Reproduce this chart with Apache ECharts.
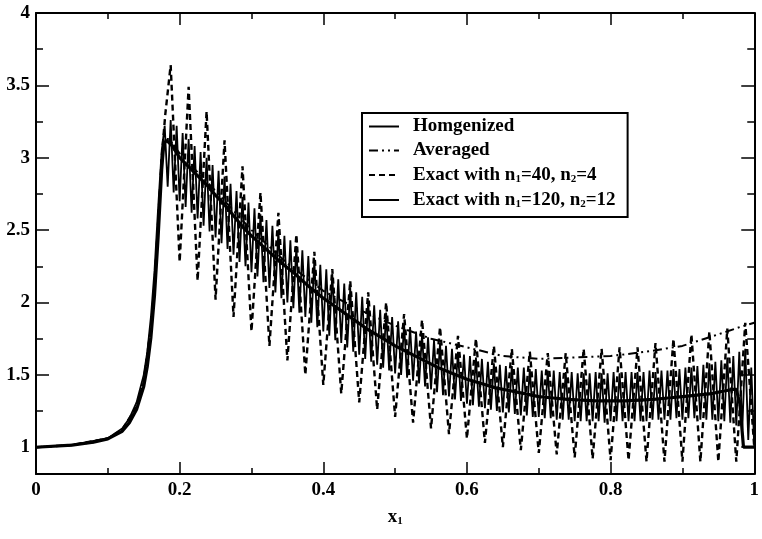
<!DOCTYPE html>
<html><head><meta charset="utf-8">
<script src="https://cdn.jsdelivr.net/npm/echarts@6/dist/echarts.min.js"></script>
<style>html,body{margin:0;padding:0;background:#fff}#c{width:762px;height:539px}</style>
</head><body><div id="c"></div>
<script>
// ---------- data ----------
const seriesNames = ['Homgenized', 'Averaged', 'Exact with n1=40, n2=4', 'Exact with n1=120, n2=12'];

const homX = [0,0.05,0.08,0.1,0.12,0.13,0.14,0.15,0.155,0.16,0.165,0.17,0.175,0.178,0.182,0.19,0.2,0.21,0.22,0.23,0.24,0.25,0.26,0.27,0.28,0.29,0.3,0.32,0.34,0.36,0.38,0.4,0.42,0.44,0.46,0.48,0.5,0.52,0.54,0.56,0.58,0.6,0.62,0.64,0.66,0.68,0.7,0.72,0.74,0.76,0.78,0.8,0.82,0.84,0.86,0.88,0.9,0.92,0.94,0.96,0.97,0.975,0.98,0.985,1.0];
const homY = [1.0,1.015,1.035,1.058,1.11,1.17,1.26,1.42,1.56,1.76,2.05,2.45,2.92,3.1,3.12,3.08,3.0,2.95,2.9,2.85,2.8,2.74,2.69,2.63,2.57,2.51,2.46,2.37,2.28,2.2,2.11,2.03,1.96,1.89,1.82,1.76,1.70,1.65,1.60,1.55,1.51,1.47,1.44,1.41,1.39,1.37,1.35,1.34,1.33,1.325,1.32,1.32,1.32,1.325,1.33,1.34,1.35,1.36,1.37,1.39,1.40,1.40,1.30,1.0,1.0];

const avgX = [0,0.05,0.08,0.1,0.12,0.13,0.14,0.15,0.16,0.165,0.17,0.175,0.18,0.185,0.2,0.25,0.3,0.35,0.4,0.45,0.5,0.55,0.6,0.65,0.7,0.75,0.8,0.85,0.9,0.95,0.98,1.0];
const avgY = [1.0,1.015,1.035,1.06,1.12,1.18,1.29,1.47,1.84,2.15,2.55,2.98,3.13,3.13,3.03,2.77,2.5,2.27,2.08,1.95,1.84,1.75,1.69,1.63,1.61,1.62,1.63,1.66,1.70,1.78,1.83,1.86];

// exact n1=40: smooth rise, then one peak and one trough per period
const ex40RiseX = [0,0.05,0.1,0.12,0.14,0.15,0.16,0.165,0.17,0.175,0.18];
const ex40RiseY = [1.0,1.015,1.06,1.12,1.28,1.45,1.82,2.12,2.55,3.0,3.3];
const ex40FirstPeriod = 7;
const ex40Peaks = [3.64,3.49,3.32,3.12,2.94,2.76,2.62,2.47,2.35,2.23,2.15,2.07,2.0,1.92,1.88,1.83,1.77,1.75,1.70,1.68,1.66,1.65,1.65,1.68,1.68,1.69,1.69,1.72,1.75,1.78,1.80,1.82,1.86];
const ex40Troughs = [2.28,2.15,2.02,1.9,1.8,1.7,1.6,1.5,1.43,1.37,1.31,1.26,1.21,1.17,1.13,1.09,1.06,1.03,1.0,0.98,0.96,0.95,0.93,0.92,0.91,0.91,0.9,0.9,0.9,0.9,0.9,0.9,1.0];

// exact n1=120
const ex120RiseX = [0,0.05,0.1,0.12,0.13,0.14,0.15,0.155,0.16,0.165,0.17,0.175];
const ex120RiseY = [1.0,1.015,1.062,1.13,1.2,1.31,1.5,1.66,1.9,2.22,2.65,3.05];
const ex120FirstPeriod = 21;
const ex120Peaks = [
 3.22,3.26,3.22,3.17,3.13,3.08,3.04,3.0,2.95,2.91,
 2.87,2.82,2.77,2.73,2.69,2.65,2.61,2.57,2.53,2.50,
 2.46,2.43,2.39,2.36,2.32,2.29,2.26,2.23,2.20,2.16,
 2.13,2.10,2.07,2.04,2.01,1.98,1.95,1.93,1.90,1.87,
 1.85,1.83,1.80,1.78,1.76,1.74,1.72,1.70,1.68,1.66,
 1.64,1.63,1.62,1.61,1.59,1.58,1.57,1.56,1.56,1.55,
 1.55,1.54,1.54,1.53,1.53,1.53,1.52,1.52,1.52,1.51,
 1.51,1.51,1.52,1.51,1.51,1.52,1.51,1.52,1.52,1.52,
 1.52,1.53,1.52,1.53,1.53,1.54,1.54,1.55,1.55,1.56,
 1.57,1.58,1.59,1.60,1.62,1.63,1.66,1.68,1.55];
const ex120Troughs = [
 2.80,2.76,2.70,2.66,2.62,2.58,2.53,2.49,2.45,2.41,
 2.37,2.33,2.28,2.25,2.21,2.18,2.14,2.10,2.07,2.03,
 2.00,1.96,1.93,1.90,1.86,1.83,1.80,1.77,1.74,1.72,
 1.69,1.66,1.64,1.61,1.59,1.57,1.55,1.53,1.51,1.50,
 1.48,1.46,1.44,1.42,1.40,1.38,1.36,1.35,1.33,1.32,
 1.30,1.29,1.28,1.27,1.26,1.25,1.24,1.24,1.23,1.22,
 1.22,1.21,1.21,1.20,1.20,1.19,1.19,1.19,1.18,1.18,
 1.18,1.18,1.18,1.17,1.18,1.18,1.18,1.18,1.18,1.18,
 1.18,1.19,1.19,1.19,1.19,1.20,1.19,1.20,1.20,1.19,
 1.19,1.19,1.18,1.18,1.17,1.15,1.12,1.05,1.0];

const yMajorTicks = [1,1.5,2,2.5,3,3.5,4];
const yMinorTicks = [1.25,1.75,2.25,2.75,3.25,3.75];

// ---------- build ----------
function zip(xs, ys){ return xs.map((x,i)=>[x, ys[i]]); }
function periodic(riseX, riseY, peaks, troughs, n, first){
  const pts = zip(riseX, riseY);
  for (let i = 0; i < peaks.length; i++){
    const k = first + i;
    pts.push([(k + 0.5) / n, peaks[i]]);
    pts.push([(k + 1) / n, troughs[i]]);
  }
  return pts;
}

const FONT = '"Liberation Serif", "Times New Roman", serif';
const rich = {
  b: {fontFamily: FONT, fontWeight: 'bold', fontSize: 19, lineHeight: 20, color: '#000'},
  s: {fontFamily: FONT, fontWeight: 'bold', fontSize: 11, lineHeight: 11, color: '#000', padding: [9,0,0,0]}
};
// "Exact with n1=40, n2=4" -> rich text with subscripts
function richName(name){
  let out = '';
  let buf = '';
  for (let i = 0; i < name.length; i++){
    const c = name[i];
    if (/\d/.test(c) && i > 0 && name[i-1] === 'n'){
      out += '{b|' + buf + '}{s|' + c + '}';
      buf = '';
    } else buf += c;
  }
  if (buf) out += '{b|' + buf + '}';
  return out;
}

const chart = echarts.init(document.getElementById('c'), null, {renderer: 'canvas'});

const axisLineStyle = {color: '#000', width: 2};
const tickStyle = {color: '#000', width: 1.5};

function xAx(pos, labels){
  return {
    type: 'value', min: 0, max: 1, interval: 0.2, position: pos, gridIndex: 0,
    axisLine: {show: true, onZero: false, lineStyle: axisLineStyle},
    axisTick: {show: true, inside: true, length: 12, lineStyle: tickStyle},
    minorTick: {show: true, splitNumber: 2, length: 6, lineStyle: tickStyle},
    splitLine: {show: false}, minorSplitLine: {show: false},
    axisLabel: {show: labels, fontFamily: FONT, fontWeight: 'bold', fontSize: 19, color: '#000', margin: 7,
      formatter: v => String(v)},
    name: labels ? '{b|x}{s|1}' : '', nameLocation: 'middle', nameGap: 33,
    nameTextStyle: {fontFamily: FONT, fontWeight: 'bold', fontSize: 19, color: '#000', rich: rich}
  };
}
function yAx(pos, ticks, len, line, labels){
  return {
    type: 'value', min: 0.815, max: 4, position: pos,
    axisLine: {show: line, onZero: false, lineStyle: axisLineStyle},
    axisTick: {show: true, inside: true, length: len, customValues: ticks, lineStyle: tickStyle},
    splitLine: {show: false},
    axisLabel: {show: labels, customValues: ticks, fontFamily: FONT, fontWeight: 'bold', fontSize: 19, color: '#000', margin: 6,
      formatter: v => String(v)}
  };
}

const option = {
  animation: false,
  backgroundColor: '#fff',
  grid: {left: 36, right: 3, top: 13, bottom: 65},
  xAxis: [xAx('bottom', true), xAx('top', false)],
  yAxis: [
    yAx('left', yMajorTicks, 13, true, true),
    yAx('left', yMinorTicks, 7, false, false),
    yAx('right', yMajorTicks, 13, true, false),
    yAx('right', yMinorTicks, 7, false, false)
  ],
  legend: {
    orient: 'vertical', left: 362, top: 113,
    backgroundColor: '#fff', borderColor: '#000', borderWidth: 2, borderRadius: 0,
    padding: [4, 12, 7, 6], itemWidth: 30, itemHeight: 14, itemGap: 5,
    selectedMode: false,
    itemStyle: {opacity: 0, color: 'rgba(0,0,0,0)', borderWidth: 0},
    data: seriesNames,
    formatter: name => richName(name),
    textStyle: {padding: [0,0,0,9], rich: rich}
  },
  series: [
    {name: seriesNames[3], type: 'line', showSymbol: false, symbol: 'none', z: 2,
      data: periodic(ex120RiseX, ex120RiseY, ex120Peaks, ex120Troughs, 120, ex120FirstPeriod),
      lineStyle: {color: '#000', width: 1.8, type: 'solid'}, itemStyle: {color: '#000'}},
    {name: seriesNames[2], type: 'line', showSymbol: false, symbol: 'none', z: 3,
      data: periodic(ex40RiseX, ex40RiseY, ex40Peaks, ex40Troughs, 40, ex40FirstPeriod),
      lineStyle: {color: '#000', width: 2.4, type: [6, 4]}, itemStyle: {color: '#000'}},
    {name: seriesNames[1], type: 'line', showSymbol: false, symbol: 'none', z: 4,
      data: zip(avgX, avgY),
      lineStyle: {color: '#000', width: 2, type: [9, 4, 2, 4, 2, 4]}, itemStyle: {color: '#000'}},
    {name: seriesNames[0], type: 'line', showSymbol: false, symbol: 'none', z: 5,
      data: zip(homX, homY),
      lineStyle: {color: '#000', width: 3.2, type: 'solid'}, itemStyle: {color: '#000'}}
  ]
};
chart.setOption(option);
</script>
</body></html>
